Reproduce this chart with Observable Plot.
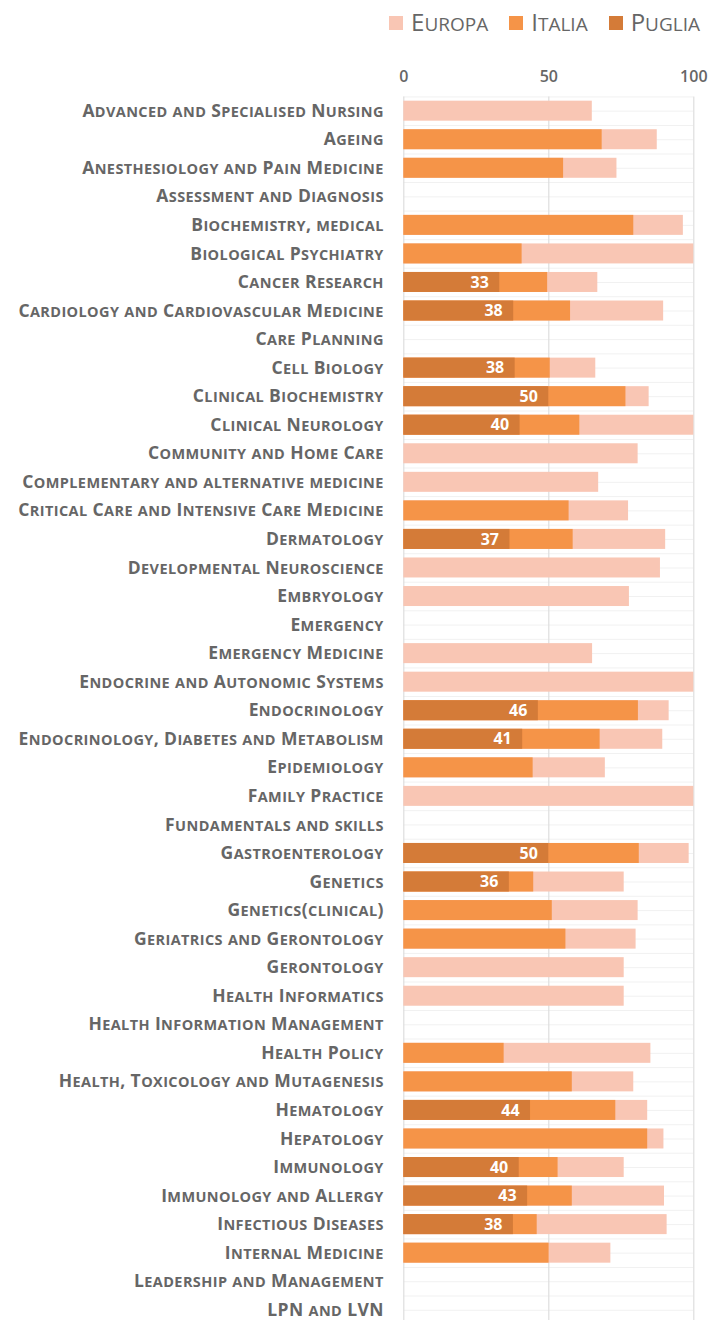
<!DOCTYPE html>
<html><head><meta charset="utf-8">
<script src="https://cdn.jsdelivr.net/npm/d3@7"></script>
<script src="https://cdn.jsdelivr.net/npm/@observablehq/plot@0.6"></script>
<style>
body{margin:0;background:#fff;font-family:"Open Sans",Lato,sans-serif;overflow:hidden;}
#legend{height:46px;display:flex;justify-content:flex-end;align-items:flex-start;padding-right:10px;box-sizing:border-box;padding-top:8px;}
.item{display:flex;align-items:center;margin-left:21px;color:#666;font-size:24px;line-height:28px;}
.sw{width:14px;height:14px;margin-right:8px;}
.sm{font-size:19px;}
#chart svg{display:block;}
</style></head>
<body>
<div id="legend"></div>
<div id="chart"></div>
<script>
const categories = [
"Advanced and Specialised Nursing","Ageing","Anesthesiology and Pain Medicine","Assessment and Diagnosis",
"Biochemistry, medical","Biological Psychiatry","Cancer Research","Cardiology and Cardiovascular Medicine",
"Care Planning","Cell Biology","Clinical Biochemistry","Clinical Neurology","Community and Home Care",
"Complementary and alternative medicine","Critical Care and Intensive Care Medicine","Dermatology",
"Developmental Neuroscience","Embryology","Emergency","Emergency Medicine","Endocrine and Autonomic Systems",
"Endocrinology","Endocrinology, Diabetes and Metabolism","Epidemiology","Family Practice","Fundamentals and skills",
"Gastroenterology","Genetics","Genetics(clinical)","Geriatrics and Gerontology","Gerontology","Health Informatics",
"Health Information Management","Health Policy","Health, Toxicology and Mutagenesis","Hematology","Hepatology",
"Immunology","Immunology and Allergy","Infectious Diseases","Internal Medicine","Leadership and Management","LPN and LVN"
];
const europa = [65.0,87.4,73.5,null,96.4,100,66.9,89.6,null,66.2,84.6,100,80.8,67.2,77.5,90.3,88.5,77.8,null,65.1,100,
91.5,89.3,69.5,100,null,98.4,76.0,80.8,80.1,76.0,76.0,null,85.2,79.3,84.1,89.7,76.0,89.9,90.8,71.4,null,null];
const italia = [null,68.4,55.1,null,79.3,40.8,49.6,57.5,null,50.5,76.6,60.7,null,null,57.0,58.4,null,null,null,null,null,
80.9,67.7,44.6,null,null,81.2,44.8,51.2,55.9,null,null,null,34.6,58.1,73.1,84.1,53.2,58.1,46.0,50.1,null,null];
const puglia = [null,null,null,null,null,null,33.1,37.9,null,38.4,50.0,40.1,null,null,null,36.6,null,null,null,null,null,
46.4,41.0,null,null,null,50.0,36.4,null,null,null,null,null,null,null,43.7,null,39.8,42.7,37.8,null,null,null];
const seriesNames = ["Europa","Italia","Puglia"];
const seriesColors = ["#F9C6B4","#F59448","#D47B38"];
const xTicks = [0,50,100];

const rows = [];
categories.forEach((c,i)=>{
  [europa,italia,puglia].forEach((arr,k)=>{ if(arr[i]!=null) rows.push({category:c, series:seriesNames[k], value:arr[i]}); });
});

function runsOf(s){
  const runs=[];
  for (const ch of s){
    const low = ch!==ch.toUpperCase();
    if(runs.length && runs[runs.length-1].low===low) runs[runs.length-1].t+=ch; else runs.push({low,t:ch});
  }
  return runs;
}

// legend
const lg = document.getElementById("legend");
seriesNames.forEach((s,k)=>{
  const it = document.createElement("div"); it.className="item";
  const sw = document.createElement("span"); sw.className="sw"; sw.style.background=seriesColors[k];
  const t = document.createElement("span");
  runsOf(s).forEach(r=>{ const sp=document.createElement("span"); sp.textContent=r.low?r.t.toUpperCase():r.t; if(r.low) sp.className="sm"; t.appendChild(sp); });
  it.appendChild(sw); it.appendChild(t); lg.appendChild(it);
});

const width = 710, marginTop = 50.4, marginLeft = 403.3, marginRight = 16.7;
const step = 28.55;
const height = marginTop + step*categories.length;
const barH = 20, inset = (step-barH)/2;
const font = "'Open Sans', Lato, sans-serif";
const bigSize = 17.5, smallSize = 14.5;

const chart = Plot.plot({
  width, height, marginTop, marginLeft, marginRight, marginBottom: 0,
  style:{fontFamily:font, background:"#fff"},
  x:{domain:[0,100], axis:null},
  y:{domain:categories, axis:null, padding:0, round:false},
  color:{domain:seriesNames, range:seriesColors},
  marks:[
    Plot.ruleY(categories,{y:d=>d, stroke:"#f1f1f1"}),
    Plot.ruleY(categories,{y:d=>d, dy:step/2, stroke:"#f1f1f1"}),
    Plot.ruleY([categories[0]],{y:d=>d, dy:-step/2, stroke:"#f1f1f1"}),
    Plot.ruleX(xTicks,{x:d=>d, stroke:"#dedede", strokeWidth:1.2}),
    ...seriesNames.map(s=>Plot.barX(rows.filter(r=>r.series===s),{x:"value", y:"category", fill:"series", insetTop:inset, insetBottom:inset})),
    Plot.text(rows.filter(r=>r.series==="Puglia"),{x:"value", y:"category", text:d=>String(Math.round(d.value)), textAnchor:"end", dx:-11, fill:"white", fontWeight:"bold", fontSize:16}),
    Plot.text(categories,{y:d=>d, text:d=>d, frameAnchor:"left", textAnchor:"end", dx:-20, fill:"#666", fontWeight:"bold", fontSize:bigSize}),
    Plot.text(xTicks,{x:d=>d, text:d=>String(d), frameAnchor:"top", dy:-26, fill:"#666", fontWeight:600, fontSize:16})
  ]
});
document.getElementById("chart").appendChild(chart);

// manual small caps for category labels
chart.querySelectorAll("text").forEach(el=>{
  const s = el.textContent;
  if(!categories.includes(s)) return;
  el.textContent = "";
  el.setAttribute("letter-spacing","0.4");
  runsOf(s).forEach(r=>{
    const ts = document.createElementNS("http://www.w3.org/2000/svg","tspan");
    ts.textContent = r.low ? r.t.toUpperCase() : r.t;
    ts.setAttribute("font-size", r.low ? smallSize : bigSize);
    el.appendChild(ts);
  });
});
</script>
</body></html>
